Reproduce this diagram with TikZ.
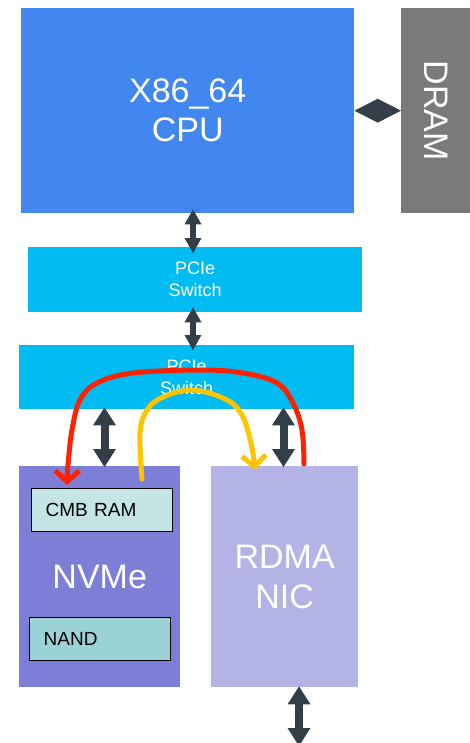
\documentclass[tikz,border=0pt]{standalone}
\usepackage{fontspec}
\setmainfont{Liberation Sans}
\usetikzlibrary{arrows.meta}
\definecolor{cpublue}{RGB}{66,134,240}
\definecolor{dramgray}{RGB}{122,122,122}
\definecolor{swcyan}{RGB}{0,188,242}
\definecolor{nvmeblue}{RGB}{124,127,213}
\definecolor{nicblue}{RGB}{179,179,229}
\definecolor{cmbfill}{RGB}{196,228,230}
\definecolor{nandfill}{RGB}{155,210,214}
\definecolor{arrowdark}{RGB}{52,62,72}
\definecolor{redpath}{RGB}{255,34,0}
\definecolor{yellowpath}{RGB}{255,196,0}
\begin{document}
\begin{tikzpicture}[x=1pt,y=-1pt,
  box/.style={anchor=north west, inner sep=0pt, text=white, align=center},
  bigtext/.style={font=\fontsize{34}{40}\selectfont},
  swtext/.style={font=\fontsize{18}{22}\selectfont},
  subbox/.style={anchor=north west, draw=black, line width=1.3pt, inner ysep=0pt, inner xsep=14pt,
    text width=113pt, align=left, minimum height=43pt, font=\fontsize{19}{22}\selectfont},
  dblsmall/.style={draw=arrowdark, line width=6.5pt, >={Triangle[width=17pt,length=15pt,line width=0pt]}, <->},
  dblbig/.style={draw=arrowdark, line width=8pt, >={Triangle[width=23pt,length=18pt,line width=0pt]}, <->},
  diamondarrow/.style={draw=arrowdark, line width=0.4pt, >={Triangle[width=24pt,length=23.5pt,line width=0pt]}, <->},
  hand/.style={line width=5pt, line cap=round, line join=round, >={Straight Barb[length=11pt,width=24pt]}, ->}
]
\useasboundingbox (0,0) rectangle (470,743);
% boxes
\node[box, fill=cpublue, minimum width=333pt, minimum height=205pt, font=\fontsize{34}{39}\selectfont] (cpu) at (21,8) {X86\_64\\CPU};
\node[box, fill=dramgray, minimum width=69pt, minimum height=205pt] (dram) at (401,8) {};
\node[rotate=-90, text=white, bigtext, inner sep=0pt] (dramtext) at (dram.center) {DRAM};
\node[box, fill=swcyan, minimum width=334pt, minimum height=65pt, swtext] (sw1) at (28,247) {PCIe\\Switch};
\node[box, fill=swcyan, minimum width=335pt, minimum height=64pt, swtext] (sw2) at (19,345) {PCIe\\Switch};
\node[box, fill=nvmeblue, minimum width=161pt, minimum height=221pt, bigtext] (nvme) at (19,466) {NVMe};
\node[box, fill=nicblue, minimum width=147pt, minimum height=221pt, bigtext] (nic) at (211,466) {RDMA\\NIC};
\node[subbox, fill=cmbfill] (cmb) at (31,488) {CMB RAM};
\node[subbox, fill=nandfill] (nand) at (29,617) {NAND};
% connectors
\draw[diamondarrow] (cpu.east) -- (dram.west);
\draw[dblsmall, shorten <=-4pt, shorten >=-6pt] (193,0 |- cpu.south) -- (193,0 |- sw1.north);
\draw[dblsmall, shorten <=-5pt, shorten >=-5pt] (193,0 |- sw1.south) -- (193,0 |- sw2.north);
\draw[dblbig, shorten <=-2pt, shorten >=-1pt] (104.5,0 |- sw2.south) -- (104.5,0 |- nvme.north);
\draw[dblbig, shorten <=-2pt, shorten >=-1pt] (283.5,0 |- sw2.south) -- (283.5,0 |- nic.north);
\coordinate (ext) at (299,746);
\draw[dblbig, shorten <=-1pt] (299,0 |- nic.south) -- (ext);
% hand drawn paths
\coordinate (rs) at (304,464);
\coordinate (re) at (67,485);
\coordinate (ys) at (142,479);
\coordinate (ye) at (255,470);
\draw[hand, draw=redpath] plot[smooth, tension=0.6] coordinates {(rs) (302,430) (293,403) (277,383) (243,373) (200,370) (133,373) (97,383) (80,400) (72,430) (68,465) (re)};
\draw[hand, draw=yellowpath] plot[smooth, tension=0.6] coordinates {(ys) (140,433) (147,410) (163,397) (193,390) (227,400) (243,417) (252,448) (ye)};
\end{tikzpicture}
\end{document}
